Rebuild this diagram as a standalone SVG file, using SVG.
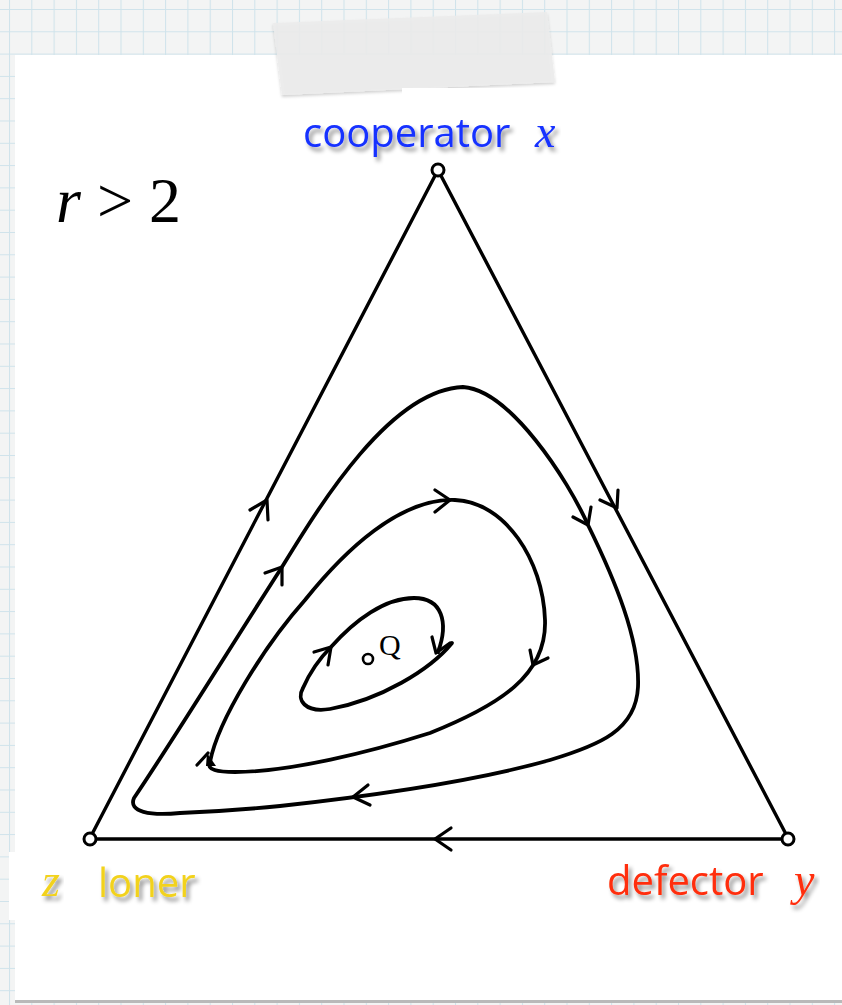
<svg xmlns="http://www.w3.org/2000/svg" width="842" height="1005" viewBox="0 0 842 1005">
  <defs>
    <pattern id="grid" patternUnits="userSpaceOnUse" x="9" y="9" width="22.3" height="22.3">
      <rect width="22.3" height="22.3" fill="#f3f4f4"/>
      <path d="M0 0.5 H22.3 M0.5 0 V22.3" stroke="#cfe3eb" stroke-width="1" fill="none"/>
    </pattern>
    <filter id="shadow" x="-10%" y="-20%" width="130%" height="160%">
      <feDropShadow dx="3" dy="4" stdDeviation="2" flood-color="#000" flood-opacity="0.45"/>
    </filter>
    <filter id="tapeShadow" x="-5%" y="-20%" width="110%" height="150%">
      <feDropShadow dx="0" dy="2" stdDeviation="1.5" flood-color="#000" flood-opacity="0.2"/>
    </filter>
  </defs>
  <style>
    .edge { stroke: #000; stroke-width: 3.4; fill: none; stroke-linecap: round; }
    .orbit { stroke: #000; stroke-width: 3.8; fill: none; stroke-linecap: round; stroke-linejoin: round; }
    .arrow { stroke: #000; stroke-width: 3.2; fill: none; stroke-linecap: round; stroke-linejoin: round; }
    .vertex { fill: #fff; stroke: #000; stroke-width: 3; }
    .lbl { font-family: "Open Sans", "Noto Sans", "DejaVu Sans", sans-serif; font-size: 40px; }
    .var { font-family: "Liberation Serif", "Times New Roman", serif; font-style: italic; font-size: 46px; }
  </style>

  <!-- background paper -->
  <rect x="0" y="0" width="842" height="1005" fill="url(#grid)"/>
  <rect x="15" y="55" width="827" height="946" fill="#ffffff"/>
  <rect x="15" y="1000" width="827" height="3" fill="#b9b9b9"/>
  <rect x="9" y="852" width="10" height="68" fill="#ffffff"/>
  <polygon points="273,23 547,12 555,82 282,95" fill="#ececec" fill-opacity="0.9" filter="url(#tapeShadow)"/>
  <rect x="402" y="88" width="160" height="10" fill="#ffffff"/>

  <!-- title -->
  <g id="title">
    <text x="56" y="222" font-family="Liberation Serif, Times New Roman, serif" font-size="64"><tspan font-style="italic">r</tspan> &gt; 2</text>
  </g>

  <!-- connectors: triangle edges and orbits -->
  <g id="connectors">
    <line class="edge" x1="90" y1="838" x2="438" y2="170"/>
    <line class="edge" x1="438" y1="170" x2="788" y2="838"/>
    <line class="edge" x1="788" y1="839" x2="90" y2="839"/>
    <path class="arrow" d="M250,510 L267,500 L268,520"/>
    <path class="arrow" d="M600,500 L617,508 L618,490"/>
    <path class="arrow" d="M451,828 L435,839 L451,850"/>

    <!-- outer orbit -->
    <path class="orbit" d="M180,813 C150,816 128,812 134,798 C170,745 235,640 282,567 C320,505 390,390 463,387 C510,390 568,480 588,525 C615,580 640,640 638,687 C636,730 600,745 550,760 C480,780 380,795 280,806 C240,810 205,812 180,813 Z"/>
    <path class="arrow" d="M265,573 L282,567 L282,585"/>
    <path class="arrow" d="M573,517 L588,525 L591,507"/>
    <path class="arrow" d="M368,785 L353,797 L370,805"/>

    <!-- middle orbit -->
    <path class="orbit" d="M210,762 C218,720 265,645 305,600 C345,550 400,498 455,500 C505,502 543,560 545,620 C547,675 500,705 430,733 C370,752 290,772 235,772 C218,772 206,770 210,762 Z"/>
    <path class="arrow" d="M435,490 L450,500 L435,512"/>
    <path class="arrow" d="M530,650 L533,665 L548,658"/>
    <path class="arrow" d="M197,765 L208,753"/>
    <path d="M207,753 L216,766 L206,766 Z" fill="#000"/>

    <!-- inner orbit -->
    <path class="orbit" d="M452,643 C430,670 380,700 330,709 C305,713 296,700 303,688 C310,672 320,658 331,647 C355,620 385,598 414,598 C442,598 449,622 438,652"/>
    <path class="arrow" d="M314,652 L331,647 L328,665"/>
    <path class="arrow" d="M432,637 L436,653 L450,643"/>
  </g>

  <!-- vertices -->
  <g id="node-cooperator">
    <circle class="vertex" cx="438" cy="170" r="6"/>
    <text class="lbl" x="303" y="147" fill="#1530ff" filter="url(#shadow)">cooperator</text>
    <text class="var" x="535" y="147" fill="#1530ff" filter="url(#shadow)">x</text>
  </g>
  <g id="node-loner">
    <circle class="vertex" cx="90" cy="839" r="6"/>
    <text class="var" x="42" y="896" fill="#f2d21e" filter="url(#shadow)" font-size="42">z</text>
    <text class="lbl" x="98" y="897" fill="#f2d21e" filter="url(#shadow)">loner</text>
  </g>
  <g id="node-defector">
    <circle class="vertex" cx="788" cy="839" r="6"/>
    <text class="lbl" x="607" y="895" fill="#ff2d0a" filter="url(#shadow)">defector</text>
    <text class="var" x="794" y="895" fill="#ff2d0a" filter="url(#shadow)">y</text>
  </g>
  <g id="node-Q">
    <circle cx="368" cy="659" r="5" fill="#fff" stroke="#000" stroke-width="2.6"/>
    <text x="379" y="655" font-family="Liberation Serif, Times New Roman, serif" font-size="30">Q</text>
  </g>
</svg>
